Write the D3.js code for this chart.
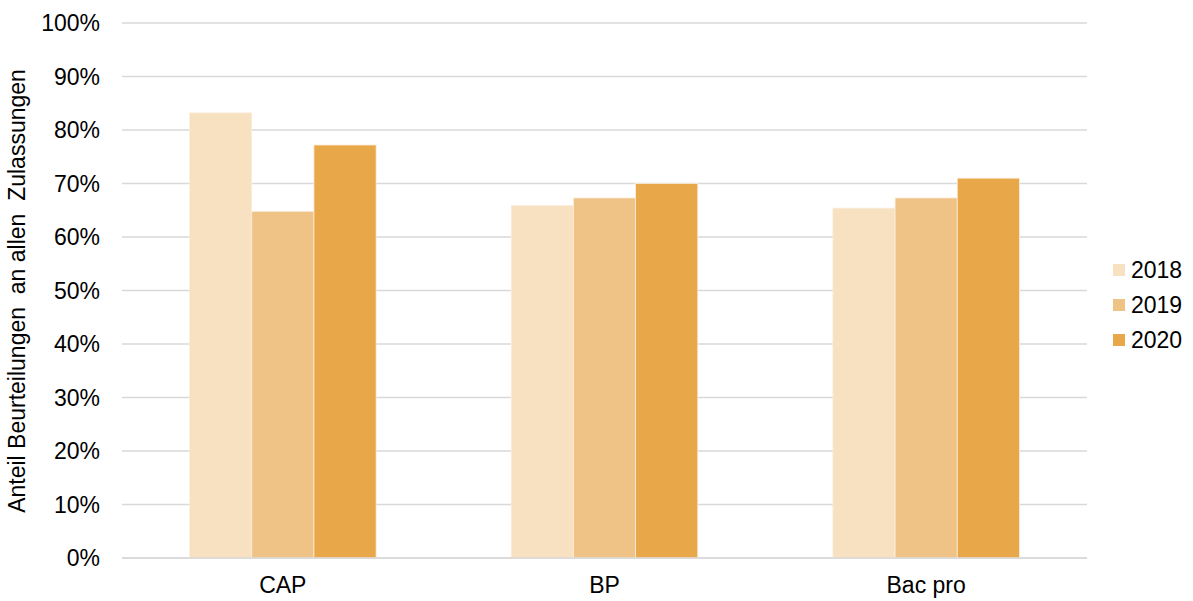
<!DOCTYPE html>
<html><head><meta charset="utf-8">
<script src="https://cdn.jsdelivr.net/npm/d3@7"></script>
<style>body{margin:0;background:#fff}text{font-family:"Liberation Sans",Arial,sans-serif}</style>
</head><body><svg id="c" width="1193" height="601"></svg>
<script>
const categories = ["CAP", "BP", "Bac pro"];
const years = ["2018", "2019", "2020"];
const v2018 = [83.2, 65.9, 65.4];
const v2019 = [64.8, 67.3, 67.3];
const v2020 = [77.2, 70.0, 71.0];
const yTicks = [0,10,20,30,40,50,60,70,80,90,100];
const colors = ["#F7E1C0", "#EFC386", "#E8A84A"];
const series = [v2018, v2019, v2020];

const svg = d3.select("#c");
const pLeft = 122, pRight = 1087, pTop = 23, pBottom = 558;
const fs = 23;
const x = d3.scaleBand().domain(categories).range([pLeft, pRight]).paddingInner(0.42).paddingOuter(0.21);
const xs = d3.scaleBand().domain(years).range([0, x.bandwidth()]);
const y = d3.scaleLinear().domain([0, 100]).range([pBottom, pTop]);

const g = svg.append("g");
g.selectAll("line.grid").data(yTicks).join("line")
  .attr("x1", pLeft).attr("x2", pRight)
  .attr("y1", d => y(d)).attr("y2", d => y(d))
  .attr("stroke", "#d9d9d9").attr("stroke-width", 1.3);

g.selectAll("text.yt").data(yTicks).join("text")
  .attr("x", 100).attr("y", d => y(d)).attr("dy", "0.35em")
  .attr("text-anchor", "end").attr("font-size", fs).attr("fill", "#000")
  .text(d => d + "%");

categories.forEach((c, i) => {
  years.forEach((yr, j) => {
    g.append("rect")
      .attr("x", x(c) + xs(yr)).attr("width", xs.bandwidth())
      .attr("y", y(series[j][i])).attr("height", y(0) - y(series[j][i]))
      .attr("fill", colors[j]).attr("stroke", "#fbeedd").attr("stroke-width", 0.8);
  });
  g.append("text").attr("x", x(c) + x.bandwidth() / 2).attr("y", 585).attr("dy", "0.35em")
    .attr("text-anchor", "middle").attr("font-size", fs).text(c);
});
g.append("line").attr("x1", pLeft).attr("x2", pRight).attr("y1", y(0)).attr("y2", y(0))
  .attr("stroke", "#d9d9d9").attr("stroke-width", 1.3);

svg.append("text").attr("transform", "translate(25,291) rotate(-90)")
  .attr("text-anchor", "middle").attr("font-size", fs).attr("xml:space", "preserve")
  .text("Anteil Beurteilungen  an allen  Zulassungen");

const lg = svg.append("g");
years.forEach((yr, j) => {
  const cy = 270 + j * 35;
  lg.append("rect").attr("x", 1113).attr("y", cy - 6).attr("width", 12).attr("height", 12).attr("fill", colors[j]);
  lg.append("text").attr("x", 1131).attr("y", cy).attr("dy", "0.35em").attr("font-size", fs).text(yr);
});
</script></body></html>
